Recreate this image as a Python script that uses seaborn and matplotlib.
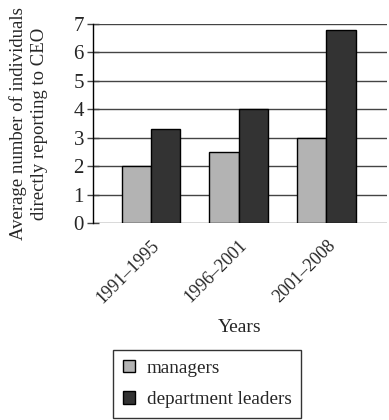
import matplotlib
matplotlib.use("Agg")
import matplotlib.pyplot as plt
import seaborn as sns
import pandas as pd

categories = ["1991\u20131995", "1996\u20132001", "2001\u20132008"]
series_names = ["managers", "department leaders"]
managers = [2.0, 2.5, 3.0]
department_leaders = [3.3, 4.0, 6.8]
yticks = [0, 1, 2, 3, 4, 5, 6, 7]

df = pd.DataFrame({
    "Years": categories * 2,
    "value": managers + department_leaders,
    "group": [series_names[0]] * 3 + [series_names[1]] * 3,
})

sns.set_style("white")
plt.rcParams["font.family"] = ["Liberation Serif", "DejaVu Serif"]

fig = plt.figure(figsize=(3.89, 4.20), dpi=100)
ax = fig.add_axes([0.239, 0.469, 0.756, 0.474])

sns.barplot(data=df, x="Years", y="value", hue="group",
            palette=["#b3b3b3", "#333333"], edgecolor="black", linewidth=1.0,
            width=0.67, gap=0, saturation=1, ax=ax, zorder=3)

ax.set_ylim(0, 7)
ax.set_xlim(-0.66, 2.69)
ax.set_yticks(yticks)
ax.yaxis.grid(True, color="#444444", linewidth=1.0, zorder=0)
ax.set_axisbelow(True)
for s in ["top", "right", "bottom"]:
    ax.spines[s].set_visible(False)
ax.spines["left"].set_color("black")
ax.spines["left"].set_linewidth(1.0)
ax.tick_params(axis="y", direction="inout", length=9, width=1.0, color="#444444",
               labelsize=15, pad=2, left=True)
ax.tick_params(axis="x", length=0, labelsize=13, pad=10)
plt.setp(ax.get_xticklabels(), rotation=45, ha="right", rotation_mode="anchor")

ax.set_xlabel("Years", fontsize=14, labelpad=9)
ax.set_ylabel("Average number of individuals\ndirectly reporting to CEO", fontsize=13.5,
              labelpad=18, linespacing=1.35)

ax.legend_.remove()
handles, labels = ax.get_legend_handles_labels()
leg = fig.legend(handles, labels, loc="upper left", bbox_to_anchor=(113/389, 1 - 350/420),
                 fontsize=13.8, frameon=True, fancybox=False, edgecolor="black",
                 handlelength=0.65, handleheight=0.65, handletextpad=0.6,
                 labelspacing=0.75, borderpad=0.5, borderaxespad=0)
leg.get_frame().set_linewidth(1.0)

fig.text(0.62, 1 + 4.8/420, "reporting directly to CEO",
         ha="center", va="baseline", fontsize=16)

fig.savefig("out.png", dpi=100)
